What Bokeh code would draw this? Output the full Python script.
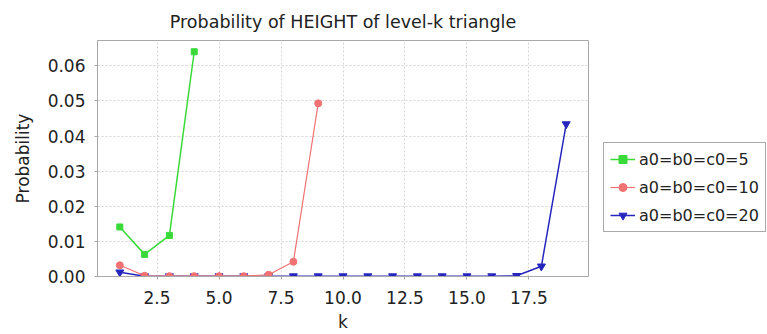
from bokeh.plotting import figure
from bokeh.layouts import row
from bokeh.models import FixedTicker, NumeralTickFormatter, Legend, LegendItem, Range1d
from bokeh.embed import file_html
from bokeh.resources import INLINE

# ---- data ----
k5 = [1, 2, 3, 4]
p5 = [0.0141, 0.0063, 0.0117, 0.0640]

k10 = [1, 2, 3, 4, 5, 6, 7, 8, 9]
p10 = [0.0032, 0.0002, 0.0001, 0.0001, 0.0001, 0.0001, 0.0005, 0.0042, 0.0493]

k20 = list(range(1, 20))
p20 = [0.0012, 0.0001, 0.0001, 0.0001, 0.0001, 0.0001, 0.0001, 0.0001, 0.0001,
       0.0001, 0.0001, 0.0001, 0.0001, 0.0001, 0.0001, 0.0001, 0.0002, 0.0029, 0.0434]

labels = ["a0=b0=c0=5", "a0=b0=c0=10", "a0=b0=c0=20"]
x_ticks = [2.5, 5.0, 7.5, 10.0, 12.5, 15.0, 17.5]
y_ticks = [0.0, 0.01, 0.02, 0.03, 0.04, 0.05, 0.06]

FONT = "DejaVu Sans"
c5, c10, c20 = "#3ad93a", "#f07272", "#2626bf"
styles = [("square", 6, c5, 1.5), ("circle", 7, c10, 1.2), ("inverted_triangle", 8, c20, 1.5)]

p = figure(width=599, height=334, output_backend="svg", toolbar_location=None,
           title="Probability of HEIGHT of level-k triangle",
           x_range=Range1d(0.1, 19.9), y_range=Range1d(0.0, 0.0672),
           min_border_left=97, min_border_right=11, min_border_top=39,
           min_border_bottom=58)

p.title.align = "center"
p.title.text_font = FONT
p.title.text_font_size = "17.5px"
p.title.text_font_style = "normal"
p.title.text_color = "#222222"
p.title.standoff = 18

p.background_fill_color = "white"
p.border_fill_color = "white"
p.outline_line_color = "#a8a8a8"
p.outline_line_width = 1

for ax in (p.xaxis, p.yaxis):
    ax.axis_line_color = "#a8a8a8"
    ax.major_tick_line_color = "#a8a8a8"
    ax.major_tick_out = 3
    ax.major_tick_in = 0
    ax.minor_tick_line_color = None
    ax.major_label_text_font = FONT
    ax.major_label_text_font_size = "17px"
    ax.major_label_text_color = "#222222"
    ax.axis_label_text_font = FONT
    ax.axis_label_text_font_size = "17px"
    ax.axis_label_text_font_style = "normal"
    ax.axis_label_text_color = "#222222"

p.xaxis.ticker = FixedTicker(ticks=x_ticks)
p.xaxis.formatter = NumeralTickFormatter(format="0.0")
p.yaxis.ticker = FixedTicker(ticks=y_ticks)
p.yaxis.formatter = NumeralTickFormatter(format="0.00")
p.xaxis.axis_label = "k"
p.yaxis.axis_label = "Probability"
p.xaxis.major_label_standoff = 11
p.yaxis.major_label_standoff = 9
p.xaxis.axis_label_standoff = 5
p.yaxis.axis_label_standoff = 12

for g in (p.xgrid, p.ygrid):
    g.grid_line_color = "#d4d4d4"
    g.grid_line_dash = "2 2"
    g.grid_line_width = 1

series = [(k5, p5), (k10, p10), (k20, p20)]
# draw blue first, then red, then green on top
for (xs, ys), (mk, sz, col, lw) in reversed(list(zip(series, styles))):
    p.line(xs, ys, line_color=col, line_width=lw)
    p.scatter(xs, ys, marker=mk, size=sz, fill_color=col, line_color=col)

# ---- legend panel (separate figure to the right of the plot area) ----
lp = figure(width=168, height=334, output_backend="svg", toolbar_location=None,
            x_axis_location=None, y_axis_location=None,
            min_border_left=0, min_border_right=0, min_border_top=0, min_border_bottom=0,
            x_range=Range1d(0, 1), y_range=Range1d(0, 1))
lp.grid.visible = False
lp.outline_line_color = None
lp.background_fill_color = "white"
lp.border_fill_color = "white"

nan = float("nan")
items = []
for lab, (mk, sz, col, lw) in zip(labels, styles):
    r1 = lp.line([nan], [nan], line_color=col, line_width=lw)
    r2 = lp.scatter([nan], [nan], marker=mk, size=sz - 1, fill_color=col, line_color=col)
    items.append(LegendItem(label=lab, renderers=[r1, r2]))

legend = Legend(items=items, location=(4, 44))
legend.label_text_font = FONT
legend.label_text_font_size = "16px"
legend.label_text_color = "#222222"
legend.glyph_width = 25
legend.glyph_height = 20
legend.label_height = 20
legend.spacing = 8
legend.padding = 6
legend.margin = 0
legend.label_standoff = 4
legend.border_line_color = "#555555"
legend.border_line_width = 1
legend.background_fill_alpha = 1.0
lp.add_layout(legend, "center")

layout = row(p, lp)
open("out.html", "w").write(file_html(layout, INLINE))
